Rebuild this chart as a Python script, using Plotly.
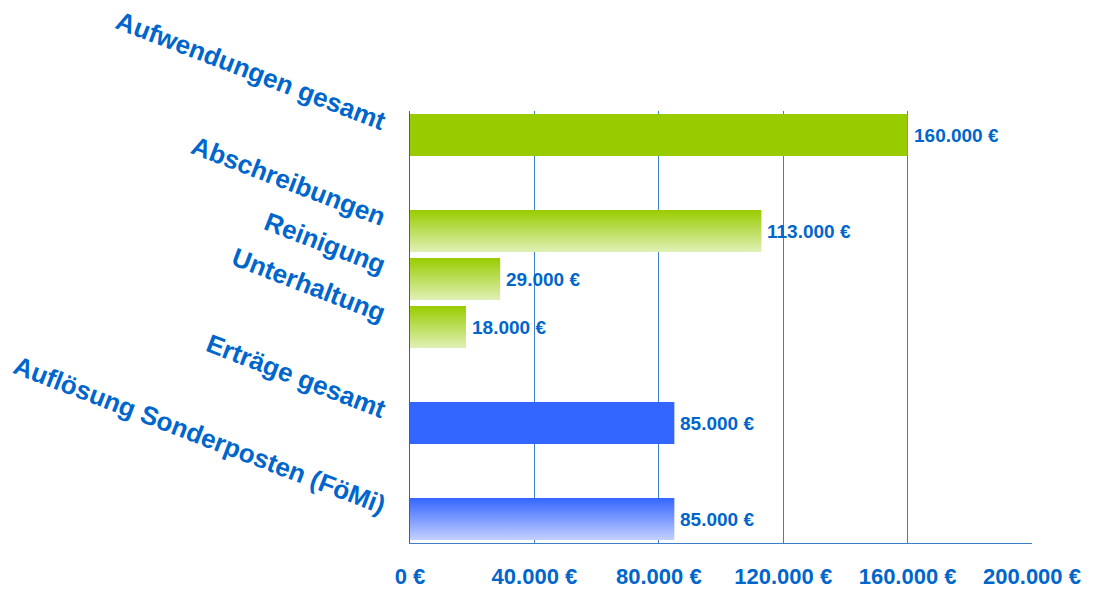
import plotly.graph_objects as go

categories = ["Aufwendungen gesamt", "Abschreibungen", "Reinigung", "Unterhaltung",
              "Erträge gesamt", "Auflösung Sonderposten (FöMi)"]
values = [160000, 113000, 29000, 18000, 85000, 85000]
x_ticks = [0, 40000, 80000, 120000, 160000, 200000]

# layout: slot index of each category (empty slots act as spacers)
slots = [0, 2, 3, 4, 6, 8]
top_colors = ["#99CC00", "#99CC00", "#99CC00", "#99CC00", "#3366FF", "#3366FF"]
bottom_colors = ["#99CC00", "#E0F0B6", "#E0F0B6", "#E0F0B6", "#3366FF", "#C4D0FF"]

TXT = "#0066CC"
FONT = "Liberation Sans, Arial, sans-serif"
BW = 0.875
LABEL_LIFT = 0.27  # rotated labels sit slightly above their bar centre


def eur(v):
    return f"{v:,.0f}".replace(",", ".") + " €"


fig = go.Figure()
for cat, v, s, ct, cb in zip(categories, values, slots, top_colors, bottom_colors):
    y0, y1 = s - BW / 2, s + BW / 2
    if ct == cb:
        fig.add_trace(go.Bar(x=[v], y=[s], orientation="h", width=BW,
                             marker=dict(color=ct, line=dict(width=0)),
                             hoverinfo="skip", showlegend=False))
    else:
        fig.add_trace(go.Scatter(
            x=[0, v, v, 0, 0], y=[y0, y0, y1, y1, y0], mode="lines",
            line=dict(width=0), fill="toself",
            fillgradient=dict(type="vertical", start=y0, stop=y1,
                              colorscale=[[0, ct], [1, cb]]),
            hoverinfo="skip", showlegend=False))
    fig.add_annotation(x=v, y=s, text=eur(v), showarrow=False, xanchor="left",
                       xshift=4, font=dict(family=FONT, size=19, color=TXT, weight="bold"))

fig.update_layout(
    width=1088, height=583,
    margin=dict(l=402, r=64, t=103, b=48, autoexpand=False),
    plot_bgcolor="white", paper_bgcolor="white",
    barmode="overlay",
    xaxis=dict(range=[0, 200000], tickvals=x_ticks, ticktext=[eur(t) for t in x_ticks],
               showgrid=True, gridcolor="#3D7FCC", gridwidth=1, zeroline=False,
               showline=True, linecolor="#3D7FCC", linewidth=1,
               ticks="", ticklabelstandoff=14,
               tickfont=dict(family=FONT, size=22, color=TXT, weight="bold"),
               automargin=False),
    yaxis=dict(range=[8.5, -0.5], tickvals=[s - LABEL_LIFT for s in slots],
               ticktext=categories, ticklabeloverflow="allow",
               tickangle=21, showgrid=False, zeroline=False,
               showline=True, linecolor="#1F66C4", linewidth=1,
               ticks="", ticklabelstandoff=18,
               tickfont=dict(family=FONT, size=26, color=TXT, weight="bold"),
               automargin=False),
)

fig.write_html("out.html")
